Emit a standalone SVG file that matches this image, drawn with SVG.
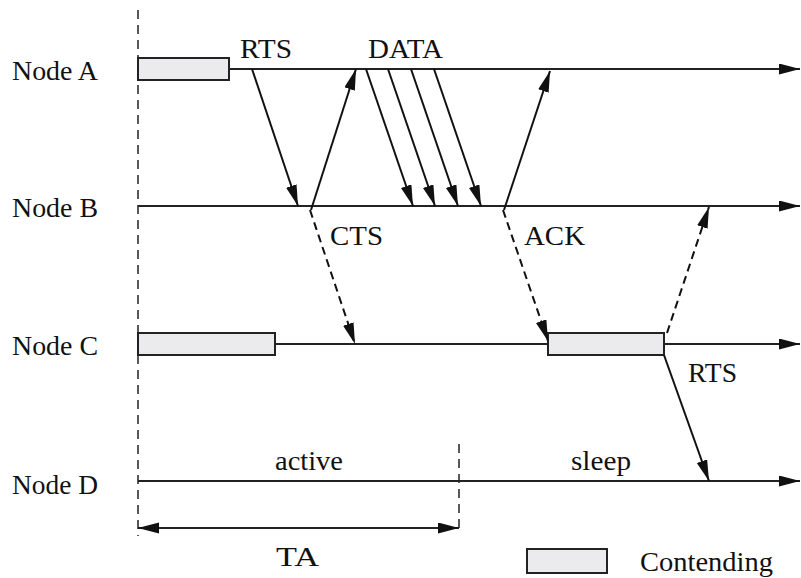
<svg xmlns="http://www.w3.org/2000/svg" width="801" height="578" viewBox="0 0 801 578">
  <defs>
    <marker id="head" markerUnits="userSpaceOnUse" markerWidth="22" markerHeight="12" refX="21" refY="5.5" orient="auto-start-reverse">
      <path d="M0,0 L21,5.5 L0,11 z" fill="#111"/>
    </marker>
  </defs>
  <style>
    text { font-family: "Liberation Serif", "Times New Roman", serif; font-size: 27px; fill: #111; }
    .mid { text-anchor: middle; }
    .axis { stroke: #222; stroke-width: 2; fill: none; }
    .msg { stroke: #111; stroke-width: 2; fill: none; marker-end: url(#head); }
    .dash { stroke-dasharray: 8 5; }
    .guide { stroke: #222; stroke-width: 1.5; stroke-dasharray: 9 6; fill: none; }
    .contend { fill: #ebebed; stroke: #222; stroke-width: 2; }
  </style>
  <rect width="801" height="578" fill="#fff"/>

  <!-- time guides -->
  <g id="guides">
    <line class="guide" x1="138" y1="10" x2="138" y2="536"/>
    <line class="guide" x1="459" y1="444" x2="459" y2="532"/>
  </g>

  <!-- node timelines -->
  <g id="node-a">
    <text x="12" y="80" textLength="86" lengthAdjust="spacingAndGlyphs">Node A</text>
    <line class="axis" x1="138" y1="69" x2="800" y2="69" marker-end="url(#head)"/>
    <rect class="contend" x="138" y="58" width="91" height="22"/>
  </g>
  <g id="node-b">
    <text x="12" y="217" textLength="86" lengthAdjust="spacingAndGlyphs">Node B</text>
    <line class="axis" x1="138" y1="206" x2="800" y2="206" marker-end="url(#head)"/>
  </g>
  <g id="node-c">
    <text x="12" y="355" textLength="86" lengthAdjust="spacingAndGlyphs">Node C</text>
    <line class="axis" x1="138" y1="344" x2="800" y2="344" marker-end="url(#head)"/>
    <rect class="contend" x="138" y="333" width="137" height="22"/>
    <rect class="contend" x="548" y="333" width="116" height="22"/>
  </g>
  <g id="node-d">
    <text x="12" y="494" textLength="86" lengthAdjust="spacingAndGlyphs">Node D</text>
    <line class="axis" x1="138" y1="481" x2="800" y2="481" marker-end="url(#head)"/>
    <text x="275" y="470" textLength="68" lengthAdjust="spacingAndGlyphs">active</text>
    <text x="571" y="470" textLength="60" lengthAdjust="spacingAndGlyphs">sleep</text>
  </g>

  <!-- messages between nodes -->
  <g id="connectors">
    <line class="msg" x1="252" y1="69" x2="298" y2="206"/>
    <line class="msg" x1="311" y1="210" x2="356" y2="69"/>
    <line class="msg" x1="366" y1="69" x2="413" y2="206"/>
    <line class="msg" x1="388" y1="69" x2="435" y2="206"/>
    <line class="msg" x1="411" y1="69" x2="458" y2="206"/>
    <line class="msg" x1="434" y1="69" x2="481" y2="206"/>
    <line class="msg" x1="504" y1="210" x2="550" y2="71"/>
    <line class="msg dash" x1="310" y1="210" x2="355" y2="344"/>
    <line class="msg dash" x1="503" y1="210" x2="548" y2="341"/>
    <line class="msg dash" x1="667" y1="333" x2="709" y2="207"/>
    <line class="msg" x1="664" y1="355" x2="709" y2="481"/>
    <line class="axis" x1="138" y1="528" x2="459" y2="528" marker-start="url(#head)" marker-end="url(#head)"/>
  </g>

  <!-- message labels -->
  <g id="labels">
    <text x="240" y="58" textLength="52" lengthAdjust="spacingAndGlyphs">RTS</text>
    <text x="368" y="58" textLength="75" lengthAdjust="spacingAndGlyphs">DATA</text>
    <text x="330" y="245" textLength="53" lengthAdjust="spacingAndGlyphs">CTS</text>
    <text x="524" y="245" textLength="61" lengthAdjust="spacingAndGlyphs">ACK</text>
    <text x="688" y="382" textLength="49" lengthAdjust="spacingAndGlyphs">RTS</text>
    <text x="276" y="566" textLength="43" lengthAdjust="spacingAndGlyphs">TA</text>
  </g>

  <!-- legend -->
  <g id="legend">
    <rect class="contend" x="527" y="549" width="80" height="24"/>
    <text x="640" y="571" textLength="133" lengthAdjust="spacingAndGlyphs">Contending</text>
  </g>
</svg>
